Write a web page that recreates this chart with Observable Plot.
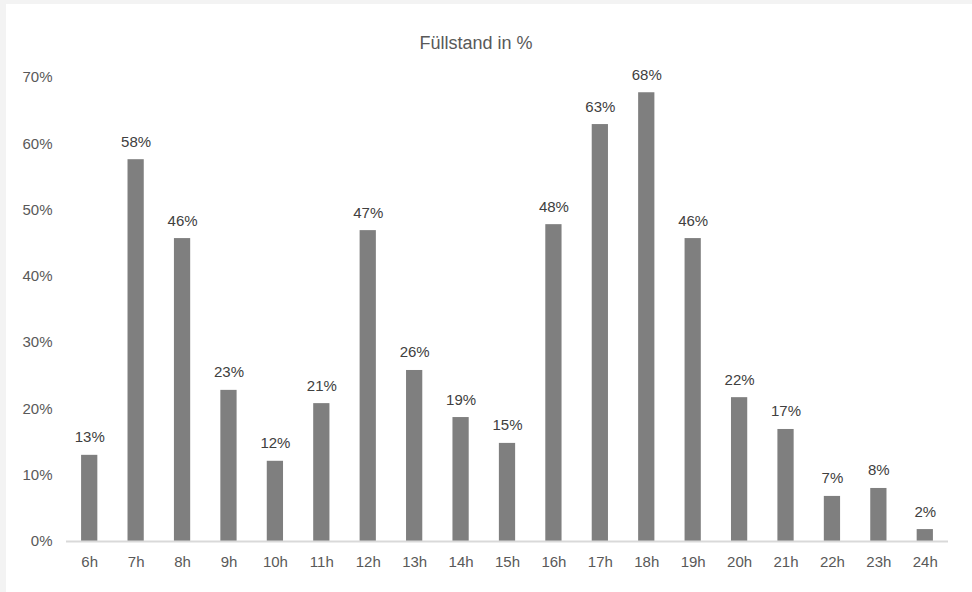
<!DOCTYPE html>
<html>
<head>
<meta charset="utf-8">
<script src="https://cdn.jsdelivr.net/npm/d3@7"></script>
<script src="https://cdn.jsdelivr.net/npm/@observablehq/plot@0.6"></script>
<style>
  html, body { margin: 0; padding: 0; background: #f3f3f3; }
  #panel { position: absolute; left: 6px; top: 4px; width: 966px; height: 588px; background: #ffffff; overflow: hidden; }
  #title { height: 60px; line-height: 78px; text-align: center; padding-right: 26px; font-family: "Liberation Sans", Arial, sans-serif; font-size: 18px; color: #595959; }
</style>
</head>
<body>
<div id="panel">
  <div id="title">Füllstand in %</div>
  <div id="chart"></div>
</div>
<script>
const hours = ["6h","7h","8h","9h","10h","11h","12h","13h","14h","15h","16h","17h","18h","19h","20h","21h","22h","23h","24h"];
const fill = [13.0, 57.6, 45.7, 22.8, 12.1, 20.8, 46.9, 25.8, 18.7, 14.8, 47.8, 62.9, 67.7, 45.7, 21.7, 16.9, 6.8, 8.0, 1.8];
const yTicks = [0, 10, 20, 30, 40, 50, 60, 70];

const data = hours.map((h, i) => ({hour: h, value: fill[i]}));
const pct = v => d3.format(".0%")(v / 100);

const chart = Plot.plot({
  width: 966,
  height: 528,
  marginTop: 13,
  marginBottom: 51,
  marginLeft: 60,
  marginRight: 24,
  style: {fontFamily: "'Liberation Sans', Arial, sans-serif", fontSize: "15px", color: "#595959", background: "#ffffff"},
  x: {domain: hours, paddingInner: 0.65, paddingOuter: 0.325, round: false, label: null, tickSize: 0, tickPadding: 15},
  y: {domain: [0, 70], ticks: yTicks, tickFormat: v => v + "%", label: null, tickSize: 0, tickPadding: 14},
  marks: [
    Plot.barY(data, {x: "hour", y: "value", fill: "#7f7f7f"}),
    Plot.ruleY([0], {stroke: "#d9d9d9", strokeWidth: 2}),
    Plot.text(data, {x: "hour", y: "value", text: d => pct(d.value), lineAnchor: "bottom", dy: -13, fill: "#404040", fontSize: 15})
  ]
});
document.getElementById("chart").appendChild(chart);
</script>
</body>
</html>
